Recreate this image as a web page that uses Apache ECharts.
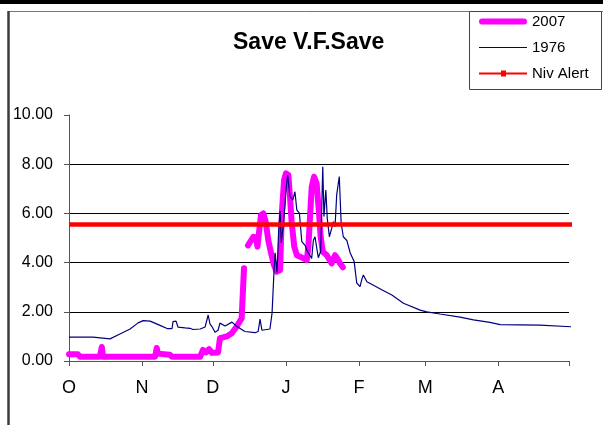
<!DOCTYPE html>
<html>
<head>
<meta charset="utf-8">
<script src="https://cdn.jsdelivr.net/npm/echarts@6/dist/echarts.min.js"></script>
<style>
html,body{margin:0;padding:0;background:#fff;}
#chart{width:603px;height:425px;}
</style>
</head>
<body>
<div id="chart"></div>
<script>
// Days since 1 October
var monthTickDays = [0, 31, 61, 92, 123, 151, 182, 212];
var monthLabels = ['O', 'N', 'D', 'J', 'F', 'M', 'A'];
var yTicks = [0, 2, 4, 6, 8, 10];

var days2007 = [0, 3.8, 4.7, 13.1, 13.9, 14.4, 36.5, 37.2, 37.7, 42.8, 43.7, 55.6, 56.8, 58.1, 59.4, 60.6, 63.2, 64, 66.9, 69, 71.1, 73.2, 73.8, 74.2, 74.8,
  75.9, 78.2, 79.3, 79.9, 80.7, 81.4, 82.4, 83.4, 84.5, 85.7, 86.9, 88.1, 89.5, 89.9, 90.3, 91.2, 92, 93, 93.7, 94.4, 95.5, 96.6, 98, 99.4, 100.8,
  101.5, 102.2, 102.9, 103.9, 105, 105.9, 106.7, 107.6, 109.3, 111.4, 112.8, 113.8, 114.9, 116.1];
var vals2007 = [0.27, 0.27, 0.17, 0.17, 0.57, 0.17, 0.17, 0.53, 0.3, 0.25, 0.17, 0.17, 0.45, 0.35, 0.48, 0.33, 0.35, 0.93, 1.0, 1.13, 1.4, 1.74, 1.8, 3.77, null,
  4.7, 5.05, 5.0, 4.65, 5.33, 5.93, 6.0, 5.66, 4.9, 4.38, 3.9, 3.63, 3.7, 4.9, 6.1, 7.36, 7.63, 7.56, 6.68, 5.66, 4.65, 4.3, 4.24, 4.17, 4.1,
  4.65, 5.87, 7.08, 7.49, 7.22, 6.14, 5.05, 4.44, 4.3, 3.97, 4.3, 4.17, 3.97, 3.81];

var days1976 = [0, 10.2, 11, 17.4, 18.2, 21.6, 25.9, 29.3, 31.4, 34.4, 38.6, 41.6, 43.7, 44.1, 45.4, 46.2, 49.2, 51.3, 52.6, 55.6, 57.7, 59, 59.8, 60.6,
  61.9, 63.2, 64, 66.2, 69.1, 71.2, 74.6, 78.9, 80.2, 81, 81.8, 85.2, 86.1, 86.9, 87.4, 88.2, 88.9, 89.5, 90, 90.8, 91.6, 92, 92.7, 93.7, 94.9,
  95.8, 96.6, 97.7, 98.7, 100.1, 100.8, 102.9, 103.6, 104.3, 105.7, 106.7, 107.6, 108.1, 108.9, 109.5, 110.4, 111.4, 112.1, 112.8, 113.5, 114.6,
  115.4, 116.3, 117.8, 119.2, 120.9, 122, 123.4, 124.1, 124.8, 126.3, 128.9, 132.6, 136.9, 141.8, 148.9, 151.7, 157.3, 165.8, 171.5, 178.5,
  182.8, 199.7, 200.5, 213.3];
var vals1976 = [0.97, 0.97, 0.9, 0.9, 0.97, 1.1, 1.3, 1.55, 1.64, 1.62, 1.45, 1.32, 1.32, 1.6, 1.62, 1.38, 1.35, 1.33, 1.28, 1.3, 1.38, 1.87, 1.5, 1.4,
  1.17, 1.25, 1.54, 1.42, 1.58, 1.4, 1.2, 1.15, 1.2, 1.7, 1.25, 1.3, 1.95, 3.6, 4.4, 3.6, 5.3, 6.1, 4.8, 5.46, 6.34, 6.95, 7.56, 6.68, 6.54,
  6.88, 6.14, 6.0, 4.85, 4.7, 4.5, 4.17, 4.9, 5.05, 4.2, 4.45, 7.9, 5.87, 6.95, 5.8, 5.05, 5.4, 5.66, 5.46, 6.75, 7.5,
  5.6, 5.05, 4.9, 4.4, 4.04, 3.17, 3.02, 3.3, 3.5, 3.22, 3.09, 2.9, 2.68, 2.35, 2.07, 2.0, 1.91, 1.78, 1.67, 1.57,
  1.48, 1.46, 1.39, 1.39];

var daysAlert = [0, 213.5];
var valsAlert = [5.55, 5.55];

function pairs(xs, ys) { return xs.map(function (x, i) { return [x, ys[i]]; }); }

var FONT = '"Liberation Sans", Arial, sans-serif';
var chart = echarts.init(document.getElementById('chart'), null, {renderer: 'canvas'});
chart.setOption({
  animation: false,
  backgroundColor: '#ffffff',
  title: {
    text: 'Save V.F.Save',
    left: 233, top: 31, padding: 0,
    textStyle: {fontFamily: FONT, fontSize: 23, fontWeight: 'bold', color: '#000'}
  },
  graphic: [
    {type: 'rect', shape: {x: 0, y: 0, width: 603, height: 4}, style: {fill: '#000'}, silent: true},
    {type: 'line', shape: {x1: 8, y1: 11.5, x2: 603, y2: 11.5}, style: {stroke: '#777', lineWidth: 1}, silent: true},
    {type: 'line', shape: {x1: 8.5, y1: 11, x2: 8.5, y2: 425}, style: {stroke: '#3c3c3c', lineWidth: 2.5}, silent: true},
    {type: 'rect', shape: {x: 469.5, y: 11.5, width: 132, height: 78}, style: {fill: '#fff', stroke: '#444', lineWidth: 1}, silent: true, z: 5}
  ],
  legend: {
    orient: 'vertical', left: 479, top: 14, padding: 0, z: 10,
    itemWidth: 48, itemHeight: 14, itemGap: 11, symbolKeepAspect: true,
    textStyle: {fontFamily: FONT, fontSize: 15, color: '#000', lineHeight: 14},
    data: [
      {name: '2007', icon: 'path://M3,0 L45,0 A3,3 0 0 1 45,6 L3,6 A3,3 0 0 1 3,0 Z'},
      {name: '1976', icon: 'path://M0,0 L48,0 L48,1.2 L0,1.2 Z'},
      {name: 'Niv Alert', icon: 'path://M0,2 L48,2 L48,4 L0,4 Z M22,0 L27,0 L27,6 L22,6 Z'}
    ]
  },
  grid: {left: 69, right: 34, top: 115, bottom: 64},
  xAxis: {
    type: 'value', min: 0, max: 212,
    axisLine: {show: true, lineStyle: {color: '#555', width: 1}},
    axisTick: {show: true, length: 5, lineStyle: {color: '#555'}, customValues: monthTickDays},
    axisLabel: {
      margin: 18, fontFamily: FONT, fontSize: 18, color: '#000',
      customValues: monthTickDays.slice(0, 7),
      formatter: function (v) { var i = monthTickDays.indexOf(v); return i >= 0 && i < monthLabels.length ? monthLabels[i] : ''; }
    },
    splitLine: {show: false}
  },
  yAxis: {
    type: 'value', min: yTicks[0], max: yTicks[yTicks.length - 1], interval: 2,
    axisLine: {show: true, lineStyle: {color: '#555', width: 1}},
    axisTick: {show: true, length: 5, lineStyle: {color: '#555'}},
    axisLabel: {margin: 16, fontFamily: FONT, fontSize: 16, color: '#000', formatter: function (v) { return v.toFixed(2); }},
    splitLine: {show: true, showMinLine: false, showMaxLine: false, lineStyle: {color: '#000', width: 1}}
  },
  series: [
    {
      name: '2007', type: 'line', data: pairs(days2007, vals2007), connectNulls: false,
      symbol: 'none', color: '#ff00ff',
      lineStyle: {color: '#ff00ff', width: 6, cap: 'round', join: 'round'}
    },
    {
      name: '1976', type: 'line', data: pairs(days1976, vals1976), clip: false,
      symbol: 'none', color: '#000080',
      lineStyle: {color: '#000080', width: 1.2}
    },
    {
      name: 'Niv Alert', type: 'line', data: pairs(daysAlert, valsAlert), clip: false,
      symbol: 'rect', symbolSize: 5, showSymbol: false, color: '#ff0000',
      lineStyle: {color: '#ff0000', width: 4.5}
    }
  ]
});
</script>
</body>
</html>
